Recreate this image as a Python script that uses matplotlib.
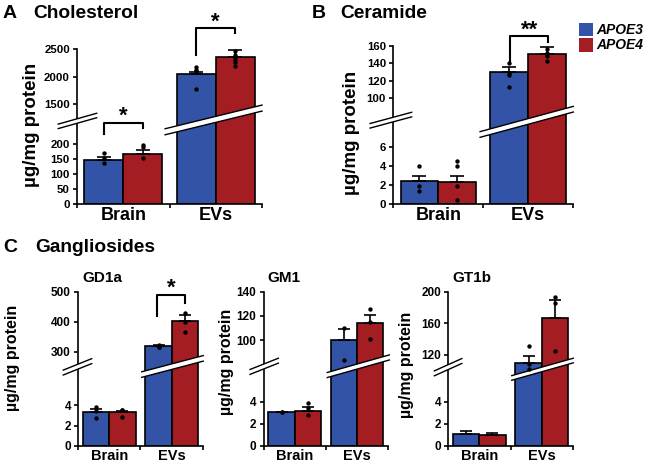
import numpy as np
import matplotlib
matplotlib.use("Agg")
import matplotlib.pyplot as plt
from matplotlib.patches import Polygon, Rectangle
from matplotlib.lines import Line2D
import matplotlib.transforms as mtransforms

plt.rcParams['font.family'] = ['Liberation Sans', 'DejaVu Sans']
plt.rcParams['font.weight'] = 'bold'

# ---------------- data ----------------
groups = ['Brain', 'EVs']
genotypes = ['APOE3', 'APOE4']

chol_e3 = [148, 2055]
chol_e4 = [165, 2360]
chol_e3_sem = [8, 35]
chol_e4_sem = [14, 125]
chol_e3_pts = [[168, 152, 136], [2180, 2120, 2100, 1770]]
chol_e4_pts = [[197, 188, 152], [2460, 2400, 2320, 2260, 2190]]

cer_e3 = [2.4, 130.5]
cer_e4 = [2.3, 151]
cer_e3_sem = [0.6, 5]
cer_e4_sem = [0.65, 7.5]
cer_e3_pts = [[4.0, 1.9, 1.4], [140, 129, 127, 113]]
cer_e4_pts = [[4.5, 4.0, 1.9, 0.4], [157, 152, 148, 143]]

gd1a_e3 = [3.4, 318]
gd1a_e4 = [3.33, 401]
gd1a_e3_sem = [0.26, 3]
gd1a_e4_sem = [0.12, 20]
gd1a_e3_pts = [[3.85, 3.5, 2.75], [321, 317, 316]]
gd1a_e4_pts = [[3.55, 3.55, 2.85], [428, 398, 365]]

gm1_e3 = [3.08, 100]
gm1_e4 = [3.2, 114]
gm1_e3_sem = [0.03, 9.6]
gm1_e4_sem = [0.38, 7]
gm1_e3_pts = [[3.05, 3.1], [110, 84]]
gm1_e4_pts = [[3.95, 3.45, 2.8], [126, 115, 101]]

gt1b_e3 = [1.06, 110]
gt1b_e4 = [1.0, 167]
gt1b_e3_sem = [0.3, 9]
gt1b_e4_sem = [0.18, 23]
gt1b_e3_pts = [[], [131, 108, 102]]
gt1b_e4_pts = [[], [193, 186, 125]]

chol_ticks = [0, 50, 100, 150, 200, 1500, 2000, 2500]
cer_ticks = [0, 2, 4, 6, 100, 120, 140, 160]
gd1a_ticks = [0, 2, 4, 300, 400, 500]
gm1_ticks = [0, 2, 4, 100, 120, 140]
gt1b_ticks = [0, 2, 4, 120, 160, 200]

BLUE = '#3353A6'
RED = '#A31D22'

W, H = 649, 462
fig = plt.figure(figsize=(W / 100, H / 100), dpi=100)


def add_ax(l, r, t, b):
    return fig.add_axes([l / W, 1 - b / H, (r - l) / W, (b - t) / H])


def make_scale(L1, U0, U1, fb):
    xp = np.array([0.0, L1, U0, U1])
    fp = np.array([0.0, fb, fb + 1e-4, 1.0])
    lo = fb / L1
    hi = (1 - fb) / (U1 - U0)

    def fwd(v):
        v = np.asarray(v, dtype=float)
        out = np.interp(v, xp, fp)
        out = np.where(v > U1, 1 + (v - U1) * hi, out)
        out = np.where(v < 0, v * lo, out)
        return out

    def inv(t):
        t = np.asarray(t, dtype=float)
        out = np.interp(t, fp, xp)
        out = np.where(t > 1, U1 + (t - 1) / hi, out)
        out = np.where(t < 0, t / lo, out)
        return out
    return fwd, inv


def slash(ax, x0, y0, x1, y1, gap, zorder=6):
    h = gap / 2
    poly = Polygon([[x0, y0 - h], [x1, y1 - h], [x1, y1 + h], [x0, y0 + h]],
                   closed=True, transform=ax.transAxes, facecolor='white',
                   edgecolor='none', clip_on=False, zorder=zorder)
    ax.add_patch(poly)
    for s in (-h, h):
        ax.add_line(Line2D([x0, x1], [y0 + s, y1 + s], transform=ax.transAxes,
                           color='black', lw=1.0, clip_on=False, zorder=zorder + 0.1))


def panel(box, sc, ticks, e3, e4, e3s, e4s, e3p, e4p, tick_fs, grp_fs, grp_base,
          capsize, axbreak, band):
    ax = add_ax(*box)
    fwd, inv = make_scale(*sc)
    ax.set_yscale('function', functions=(fwd, inv))
    ax.set_xlim(-0.5, 1.5)
    ax.set_ylim(0, sc[2])
    x = np.arange(len(groups))
    w = 0.42
    for off, vals, sems, pts, col in ((-w / 2, e3, e3s, e3p, BLUE), (w / 2, e4, e4s, e4p, RED)):
        ax.bar(x + off, vals, w, color=col, edgecolor='black', linewidth=1.2, zorder=2)
        ax.errorbar(x + off, vals, yerr=[np.zeros(len(vals)), sems], fmt='none',
                    ecolor='black', elinewidth=1.2, capsize=capsize, capthick=1.2, zorder=4)
        for xi, p in zip(x + off, pts):
            if len(p):
                ax.scatter([xi] * len(p), p, s=10, color='black', zorder=5,
                           clip_on=False, linewidths=0)
    for s in ('top', 'right'):
        ax.spines[s].set_visible(False)
    for s in ('left', 'bottom'):
        ax.spines[s].set_linewidth(1.2)
    ax.set_yticks(ticks)
    ax.set_yticklabels([str(t) for t in ticks], fontsize=tick_fs, fontweight='bold')
    ax.set_xticks([-0.5, 0.5, 1.5])
    ax.set_xticklabels([])
    ax.tick_params(axis='both', direction='out', length=3.2, width=1.2, pad=2)
    tr = mtransforms.blended_transform_factory(ax.transData, fig.transFigure)
    for xi, g in zip(x, groups):
        ax.text(xi, 1 - grp_base / H, g, transform=tr, ha='center', va='baseline',
                fontsize=grp_fs, fontweight='bold')
    slash(ax, *axbreak)
    slash(ax, *band, zorder=3)
    return ax


def bracket(ax, xl, xr, yt, ybl, ybr, label, fs=16):
    tr = mtransforms.blended_transform_factory(ax.transData, ax.transAxes)
    ax.add_line(Line2D([xl, xl, xr, xr], [ybl, yt, yt, ybr], transform=tr,
                       color='black', lw=1.5, clip_on=False, zorder=7))
    ax.text((xl + xr) / 2, yt + 0.005, label, transform=tr, ha='center',
            va='baseline', fontsize=fs, fontweight='bold')


def ftext(x, y, s, **kw):
    fig.text(x / W, 1 - y / H, s, **kw)


# Panel A
axA = panel((77.1, 262, 49.3, 204), (265, 1130, 2500, 0.515), chol_ticks,
            chol_e3, chol_e4, chol_e3_sem, chol_e4_sem, chol_e3_pts, chol_e4_pts,
            8.2, 13, 220.5, 5,
            (-0.102, 0.502, 0.106, 0.572, 0.029), (0.476, 0.467, 1.0, 0.62, 0.039))
bracket(axA, -0.21, 0.21, 0.526, 0.45, 0.49, '*')
bracket(axA, 0.79, 1.21, 1.136, 0.963, 1.103, '*')

# Panel B
axB = panel((393.3, 573.3, 46, 204), (8.25, 68, 160, 0.494), cer_ticks,
            cer_e3, cer_e4, cer_e3_sem, cer_e4_sem, cer_e3_pts, cer_e4_pts,
            8.2, 13, 220.5, 5,
            (-0.129, 0.495, 0.102, 0.566, 0.029), (0.482, 0.44, 1.0, 0.6, 0.036))
bracket(axB, 0.8, 1.22, 1.063, 0.90, 1.027, '**')

# Panel C
axC1 = panel((78.1, 202.9, 291.7, 446), (7.5, 239, 500, 0.4925), gd1a_ticks,
             gd1a_e3, gd1a_e4, gd1a_e3_sem, gd1a_e4_sem, gd1a_e3_pts, gd1a_e4_pts,
             8.5, 10.5, 460, 4.5,
             (-0.119, 0.476, 0.109, 0.55, 0.032), (0.51, 0.463, 1.003, 0.568, 0.036))
bracket(axC1, 0.77, 1.22, 0.979, 0.843, 0.927, '*')

axC2 = panel((263.5, 388.3, 291.7, 445.7), (6.9, 75.3, 140, 0.49), gm1_ticks,
             gm1_e3, gm1_e4, gm1_e3_sem, gm1_e4_sem, gm1_e3_pts, gm1_e4_pts,
             8.5, 10.5, 460, 4.5,
             (-0.108, 0.479, 0.119, 0.552, 0.032), (0.511, 0.459, 1.008, 0.573, 0.033))

axC3 = panel((448.1, 572.9, 291.7, 445.7), (6.6, 97, 200, 0.472), gt1b_ticks,
             gt1b_e3, gt1b_e4, gt1b_e3_sem, gt1b_e4_sem, gt1b_e3_pts, gt1b_e4_pts,
             8.5, 10.5, 460, 4.5,
             (-0.11, 0.47, 0.11, 0.55, 0.032), (0.51, 0.44, 1.003, 0.553, 0.03))

# y labels
for (xc, yc, fs) in ((32, 125, 13.5), (352, 133, 13.5), (13, 358, 11.5), (226, 362, 11.5), (406, 365, 11.5)):
    ftext(xc, yc, 'µg/mg protein', rotation=90, ha='center', va='center',
          fontsize=fs, fontweight='bold')

# titles
ftext(3, 18.5, 'A', fontsize=14, fontweight='bold', ha='left', va='baseline')
ftext(33, 18.5, 'Cholesterol', fontsize=13.8, fontweight='bold', ha='left', va='baseline')
ftext(312, 18.5, 'B', fontsize=14, fontweight='bold', ha='left', va='baseline')
ftext(340, 18.5, 'Ceramide', fontsize=13.8, fontweight='bold', ha='left', va='baseline')
ftext(3, 252, 'C', fontsize=14, fontweight='bold', ha='left', va='baseline')
ftext(35, 252, 'Gangliosides', fontsize=13.8, fontweight='bold', ha='left', va='baseline')
for xc, s in ((102, 'GD1a'), (284, 'GM1'), (471.7, 'GT1b')):
    ftext(xc, 281.5, s, fontsize=11, fontweight='bold', ha='center', va='baseline')

# legend
for i, (g, col) in enumerate(zip(genotypes, (BLUE, RED))):
    y0 = 22.7 + i * 15.6
    fig.patches.append(Rectangle((579.3 / W, 1 - (y0 + 13.3) / H), 14 / W, 13.3 / H,
                                 transform=fig.transFigure, facecolor=col,
                                 edgecolor='none'))
    ftext(596.7, y0 + 6.8, g, fontsize=10, fontweight='bold', fontstyle='italic',
          ha='left', va='center')

fig.savefig('out.png', dpi=100)
